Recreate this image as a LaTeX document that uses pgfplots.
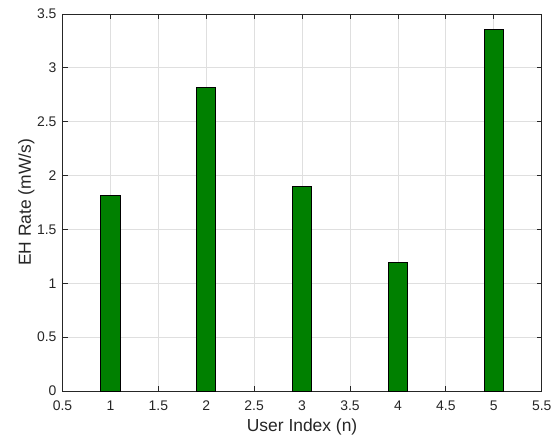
\documentclass[border=0pt]{standalone}
\usepackage{pgfplots}
\pgfplotsset{compat=1.18}
\usepackage{fontspec}
\setmainfont{Liberation Sans}
\definecolor{barg}{RGB}{0,128,0}
\definecolor{axg}{RGB}{38,38,38}
\definecolor{gridg}{RGB}{223,223,223}
\begin{document}
\begin{tikzpicture}[x=1bp,y=1bp]
\begin{axis}[
  scale only axis,
  width=479.2bp, height=377bp,
  xmin=0.5, xmax=5.5, ymin=0, ymax=3.5,
  xtick={0.5,1,...,5.5}, ytick={0,0.5,...,3.5},
  xticklabels={0.5,1,1.5,2,2.5,3,3.5,4,4.5,5,5.5},
  yticklabels={0,0.5,1,1.5,2,2.5,3,3.5},
  grid=major,
  major grid style={gridg, line width=0.8bp},
  axis line style={axg, line width=0.8bp},
  tick style={axg, line width=0.8bp},
  tick align=inside,
  major tick length=5bp,
  tick label style={font=\fontsize{14}{16}\selectfont, text=axg},
  label style={font=\fontsize{17.5}{20}\selectfont, text=axg},
  xlabel={User Index (n)},
  ylabel={EH Rate (mW/s)},
  xlabel style={at={(axis description cs:0.5,0)}, anchor=base, yshift=-40.5bp},
  ylabel style={at={(axis description cs:0,0.5)}, anchor=base, yshift=31.5bp},
  xticklabel style={anchor=base, yshift=-19bp},
  yticklabel style={xshift=-2.5bp},
  /pgf/number format/assume math mode=true,
]
\addplot[ybar, bar width=0.2, fill=barg, draw=black, line width=0.8bp] coordinates {
  (1,1.817) (2,2.816) (3,1.897) (4,1.191) (5,3.358)
};
\end{axis}
\path (current axis.south west) ++(-62.5bp,-45bp) coordinate (bl);
\path (current axis.north east) ++(15.3bp,14bp) coordinate (tr);
\path (bl) rectangle (tr);
\end{tikzpicture}
\end{document}
